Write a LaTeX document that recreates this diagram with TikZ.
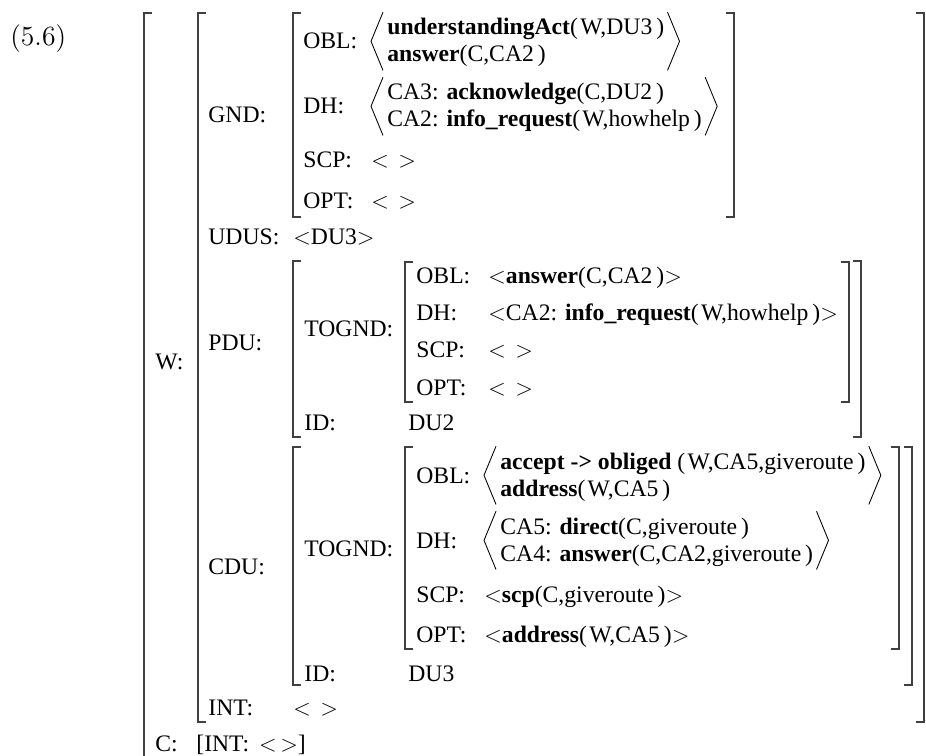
\documentclass[tikz,border=0pt]{standalone}
\usepackage{fontspec}
\setmainfont{Liberation Serif}
\usetikzlibrary{calc}
% square brackets of the matrix: x, top, bottom
\newcommand{\lbrk}[3]{\draw[brk] (#1+8,#2) -- (#1,#2) -- (#1,#3) -- (#1+8,#3);}
\newcommand{\rbrk}[3]{\draw[brk] (#1-8,#2) -- (#1,#2) -- (#1,#3) -- (#1-8,#3);}
% angle brackets round a two-line value: first line, last line, widest line
\newcommand{\angl}[3]{%
  \coordinate (tl) at ($(#1.north west)+(-4,-6)$);
  \coordinate (bl) at ($(#1.west |- #2.south)+(-4,3)$);
  \coordinate (tr) at ($(#3.east |- #1.north)+(3,-6)$);
  \coordinate (br) at ($(#3.east |- #2.south)+(3,3)$);
  \draw[ang] (tl) -- ($(tl)!.5!(bl)+(-12,0)$) -- (bl);
  \draw[ang] (tr) -- ($(tr)!.5!(br)+(12,0)$) -- (br);}
\newcommand{\emp}{$<$\hspace{0.4em}$>$}
\newcommand{\op}{(\kern1.2pt}

\begin{document}
\begin{tikzpicture}[
    x=0.52pt, y=-0.52pt,
    font=\fontsize{12.3}{14}\selectfont,
    txt/.style={anchor=base west, inner sep=0pt},
    brk/.style={draw=black!75, line width=0.7pt},
    ang/.style={draw=black, line width=0.45pt}
]

% ---- Fixed frame: same proportions as the page ----
\useasboundingbox (0,0) rectangle (926,756);

% ---- Example number ----
\node[txt] (num) at (10,46) {\fontsize{14.4}{17}\selectfont$(5.6)$};

% ---- Outer brackets ----
\draw[brk] (152,13) -- (144,13) -- (144,760);
\lbrk{198}{13}{722}
\rbrk{924}{13}{722}
\node[txt] (w) at (155,370) {W:};
\node[txt] (c) at (155,751) {C:};
\node[txt] (cval) at (196,751) {[INT:\hspace{0.42em}$<\,>$]};

% ---- GND ----
\node[txt] (gnd) at (208,123) {GND:};
\lbrk{293}{13}{217}
\rbrk{734}{13}{217}
\node[txt] (gobl) at (303,49) {OBL:};
\node[txt] (g1) at (387,35) {\textbf{understandingAct}\op W,DU3\,)};
\node[txt] (g2) at (387,62) {\textbf{answer}(C,CA2\,)};
\angl{g1}{g2}{g1}
\node[txt] (gdh) at (303,114) {DH:};
\node[txt] (g3) at (387,100) {CA3: \textbf{acknowledge}(C,DU2\,)};
\node[txt] (g4) at (387,127) {CA2: \textbf{info\_request}\op W,howhelp\,)};
\angl{g3}{g4}{g4}
\node[txt] (gscp) at (303,168) {SCP:};
\node[txt] (gscpv) at (371,168) {\emp};
\node[txt] (gopt) at (303,209) {OPT:};
\node[txt] (goptv) at (371,209) {\emp};

% ---- UDUS ----
\node[txt] (udus) at (208,245) {UDUS:};
\node[txt] (udusv) at (293,245) {$<$DU3$>$};

% ---- PDU ----
\node[txt] (pdu) at (208,351) {PDU:};
\lbrk{293}{261}{437}
\rbrk{861}{261}{437}
\node[txt] (ptog) at (304,337) {TOGND:};
\lbrk{405}{262}{402}
\rbrk{849}{262}{402}
\node[txt] (pobl) at (416,284) {OBL:};
\node[txt] (poblv) at (488,284) {$<$\textbf{answer}(C,CA2\,)$>$};
\node[txt] (pdh) at (416,321) {DH:};
\node[txt] (pdhv) at (488,321) {$<$CA2: \textbf{info\_request}\op W,howhelp\,)$>$};
\node[txt] (pscp) at (416,358) {SCP:};
\node[txt] (pscpv) at (488,358) {\emp};
\node[txt] (popt) at (416,396) {OPT:};
\node[txt] (poptv) at (488,396) {\emp};
\node[txt] (pid) at (304,431) {ID:};
\node[txt] (pidv) at (408,431) {DU2};

% ---- CDU ----
\node[txt] (cdu) at (208,574) {CDU:};
\lbrk{293}{447}{685}
\rbrk{912}{447}{685}
\node[txt] (ctog) at (304,556) {TOGND:};
\lbrk{405}{447}{649}
\rbrk{899}{447}{649}
\node[txt] (cobl) at (416,483) {OBL:};
\node[txt] (c1) at (500,469) {\textbf{accept -> obliged} \op W,CA5,giveroute\,)};
\node[txt] (c2) at (500,496) {\textbf{address}\op W,CA5\,)};
\angl{c1}{c2}{c1}
\node[txt] (cdh) at (416,548) {DH:};
\node[txt] (c3) at (500,534) {CA5: \textbf{direct}(C,giveroute\,)};
\node[txt] (c4) at (500,561) {CA4: \textbf{answer}(C,CA2,giveroute\,)};
\angl{c3}{c4}{c4}
\node[txt] (cscp) at (416,602) {SCP:};
\node[txt] (cscpv) at (484,602) {$<$\textbf{scp}(C,giveroute\,)$>$};
\node[txt] (copt) at (416,642) {OPT:};
\node[txt] (coptv) at (484,642) {$<$\textbf{address}\op W,CA5\,)$>$};
\node[txt] (cid) at (304,681) {ID:};
\node[txt] (cidv) at (408,681) {DU3};

% ---- INT ----
\node[txt] (int) at (208,715) {INT:};
\node[txt] (intv) at (293,715) {\emp};

\end{tikzpicture}
\end{document}
